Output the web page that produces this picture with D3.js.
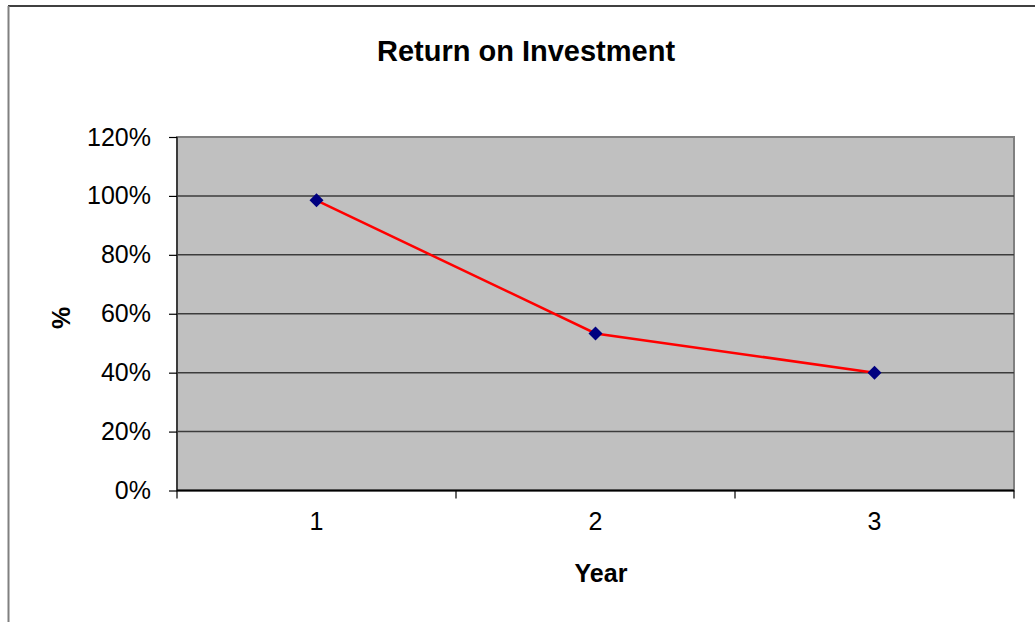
<!DOCTYPE html>
<html><head><meta charset="utf-8">
<script src="https://cdn.jsdelivr.net/npm/d3@7"></script>
<style>body{margin:0;background:#fff;}svg{display:block;font-family:Arial,"Liberation Sans",sans-serif;}</style>
</head><body>
<svg id="c" width="1035" height="622"></svg>
<script>
const years = ["1", "2", "3"];
const roi = [0.985, 0.533, 0.40];
const yTicks = [0, 0.2, 0.4, 0.6, 0.8, 1.0, 1.2];
const title = "Return on Investment";
const xTitle = "Year";
const yTitle = "%";

const svg = d3.select("#c");
const W = 1035, H = 622;
const plot = {left: 177, right: 1014, top: 137, bottom: 490.5};

// outer chart border
svg.append("line").attr("x1", 8).attr("x2", W).attr("y1", 6).attr("y2", 6).attr("stroke", "#000").attr("stroke-width", 1.5);
svg.append("line").attr("x1", 8.5).attr("x2", 8.5).attr("y1", 6).attr("y2", H).attr("stroke", "#808080").attr("stroke-width", 2);

const x = d3.scaleBand().domain(years).range([plot.left, plot.right]).paddingInner(0).paddingOuter(0);
const y = d3.scaleLinear().domain([0, 1.2]).range([plot.bottom, plot.top]);

// plot area
svg.append("rect").attr("x", plot.left).attr("y", plot.top)
  .attr("width", plot.right - plot.left).attr("height", plot.bottom - plot.top)
  .attr("fill", "#C0C0C0").attr("stroke", "#808080").attr("stroke-width", 2);

// gridlines
svg.append("g").selectAll("line").data(yTicks.filter(d => d > 0)).join("line")
  .attr("x1", plot.left).attr("x2", plot.right)
  .attr("y1", d => y(d)).attr("y2", d => y(d))
  .attr("stroke", d => d === 1.2 ? "#808080" : "#3c3c3c").attr("stroke-width", d => d === 1.2 ? 2 : 1.5);

// y axis
const yAxis = d3.axisLeft(y).tickValues(yTicks).tickFormat(d3.format(".0%")).tickSize(8).tickPadding(18);
const gy = svg.append("g").attr("transform", `translate(${plot.left},0)`).call(yAxis);
gy.select(".domain").attr("stroke", "#3c3c3c").attr("stroke-width", 2).attr("d", `M0,${plot.top}V${plot.bottom}`);
gy.selectAll(".tick line").attr("stroke", "#000").attr("stroke-width", 1.2);
gy.selectAll(".tick text").attr("font-size", 25).attr("fill", "#000").attr("font-family", "Arial, 'Liberation Sans', sans-serif");

// x axis
const xAxis = d3.axisBottom(x).tickSize(0).tickPadding(22);
const gx = svg.append("g").attr("transform", `translate(0,${plot.bottom})`).call(xAxis);
gx.select(".domain").attr("stroke", "#000").attr("stroke-width", 2).attr("d", `M${plot.left},0H${plot.right}`);
gx.selectAll(".tick text").attr("font-size", 25).attr("fill", "#000").attr("font-family", "Arial, 'Liberation Sans', sans-serif");
// category boundary ticks
const bounds = years.map(d => x(d)).concat([x(years[years.length - 1]) + x.bandwidth()]);
gx.append("g").selectAll("line").data(bounds).join("line")
  .attr("x1", d => d).attr("x2", d => d).attr("y1", 0).attr("y2", 8)
  .attr("stroke", "#000").attr("stroke-width", 1.2);

// line
const cx = d => x(d) + x.bandwidth() / 2;
const line = d3.line().x((d, i) => cx(years[i])).y(d => y(d));
svg.append("path").datum(roi).attr("d", line).attr("fill", "none").attr("stroke", "#FF0000").attr("stroke-width", 2.5);

// markers
svg.append("g").selectAll("path").data(roi).join("path")
  .attr("transform", (d, i) => `translate(${cx(years[i])},${y(d)})`)
  .attr("d", "M0,-7L7,0L0,7L-7,0Z").attr("fill", "#000080");

// titles
svg.append("text").attr("x", 526).attr("y", 61).attr("text-anchor", "middle")
  .attr("font-size", 29).attr("font-weight", "bold").text(title);
svg.append("text").attr("x", 601).attr("y", 582).attr("text-anchor", "middle")
  .attr("font-size", 25).attr("font-weight", "bold").text(xTitle);
svg.append("text").attr("transform", "translate(70,318) rotate(-90)").attr("text-anchor", "middle")
  .attr("font-size", 25).attr("font-weight", "bold").text(yTitle);
</script>
</body></html>
